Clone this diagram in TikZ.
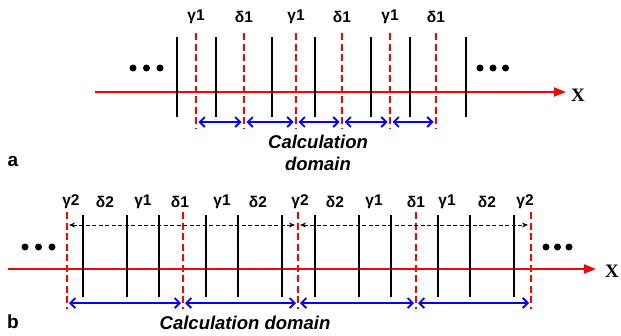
\documentclass[tikz,border=0pt]{standalone}
\usepackage{fontspec}
\setmainfont{Liberation Sans}
\newfontfamily\serifX{Liberation Serif}
\usetikzlibrary{arrows.meta}
\begin{document}
\begin{tikzpicture}[x=1pt,y=-1pt,
  wall/.style={black, line width=1.9pt},
  iface/.style={red, line width=1.8pt, dash pattern=on 7pt off 3.5pt},
  axis/.style={red, line width=2pt, -{Triangle[length=12pt,width=9pt]}},
  dom/.style={blue, line width=1.8pt, {Straight Barb[length=5pt,width=10pt]}-{Straight Barb[length=5pt,width=10pt]}},
  per/.style={black, line width=1pt, dash pattern=on 4pt off 2.5pt, {Stealth[length=6pt,width=5pt]}-{Stealth[length=6pt,width=5pt]}},
  lab/.style={font=\bfseries\fontsize{15.5}{17}\selectfont, inner sep=0pt},
  xlab/.style={font=\serifX\bfseries\fontsize{19}{20}\selectfont, inner sep=0pt},
  domcap/.style={font=\bfseries\itshape\fontsize{18.5}{22}\selectfont, inner sep=0pt, align=center},
  panel/.style={font=\bfseries\fontsize{19}{20}\selectfont, inner sep=0pt},
  dot/.style={circle, fill=black, inner sep=0pt, minimum size=7pt}]
\useasboundingbox (0,0) rectangle (621,335);

% ---------------- panel a ----------------
\coordinate (aL) at (95,92);
\coordinate (aR) at (566,92);
\draw[axis] (aL) -- (aR);
\node[xlab] (aX) at (578,95) {X};

\foreach \x [count=\i] in {177,216,272,315,371,410,466}{
  \coordinate (awt\i) at (\x,37);
  \coordinate (awb\i) at (\x,117);
  \draw[wall] (awt\i) -- (awb\i);
}
\foreach \x/\t [count=\i] in {196/γ1,244/δ1,296/γ1,342/δ1,390/γ1,436/δ1}{
  \coordinate (ait\i) at (\x,33);
  \coordinate (aib\i) at (\x,128);
  \coordinate (aal\i) at (\x+2.5,122);
  \coordinate (aar\i) at (\x-2.5,122);
  \draw[iface] (ait\i) -- (aib\i);
  \node[lab] (alab\i) at (\x,17) {\t};
}
\foreach \i [evaluate=\i as \j using int(\i+1)] in {1,...,5}{
  \draw[dom] (aal\i) -- (aar\j);
}
\node[dot] (ad1) at (133,68) {};
\node[dot] (ad2) at (146.5,68) {};
\node[dot] (ad3) at (160,68) {};
\node[dot] (ad4) at (480,68) {};
\node[dot] (ad5) at (493,68) {};
\node[dot] (ad6) at (505.5,68) {};
\node[domcap] (acap) at (318,153) {Calculation\\domain};
\node[panel] (pa) at (13,161) {a};

% ---------------- panel b ----------------
\coordinate (bL) at (8,269);
\coordinate (bR) at (596,269);
\draw[axis] (bL) -- (bR);
\node[xlab] (bX) at (612,271) {X};

\foreach \x [count=\i] in {83,127,159,206,238,282,315,359,391,438,470,514}{
  \coordinate (bwt\i) at (\x,215);
  \coordinate (bwb\i) at (\x,297);
  \draw[wall] (bwt\i) -- (bwb\i);
}
\foreach \x [count=\i] in {67,183,298,416,531}{
  \coordinate (bit\i) at (\x,212);
  \coordinate (bib\i) at (\x,309);
  \coordinate (bbl\i) at (\x+2,303);
  \coordinate (bbr\i) at (\x-2,303);
  \coordinate (bpl\i) at (\x+2,225);
  \coordinate (bpr\i) at (\x-3,225);
  \draw[iface] (bit\i) -- (bib\i);
}
\foreach \i [evaluate=\i as \j using int(\i+1)] in {1,...,4}{
  \draw[dom] (bbl\i) -- (bbr\j);
}
\draw[per] (bpl1) -- (bpr3);
\draw[per] (bpl3) -- (bpr5);

\foreach \x/\t [count=\i] in {71/γ2,105/δ2,143/γ1,180/δ1,222/γ1,258/δ2,300/γ2,335/δ2,374/γ1,416/δ1,447/γ1,487/δ2,525/γ2}{
  \node[lab] (blab\i) at (\x,202) {\t};
}
\node[dot] (bd1) at (25,247) {};
\node[dot] (bd2) at (38.5,247) {};
\node[dot] (bd3) at (52,247) {};
\node[dot] (bd4) at (546,247) {};
\node[dot] (bd5) at (557.5,247) {};
\node[dot] (bd6) at (569,247) {};
\node[domcap] (bcap) at (245,323) {Calculation domain};
\node[panel] (pb) at (13,322) {b};
\end{tikzpicture}
\end{document}
